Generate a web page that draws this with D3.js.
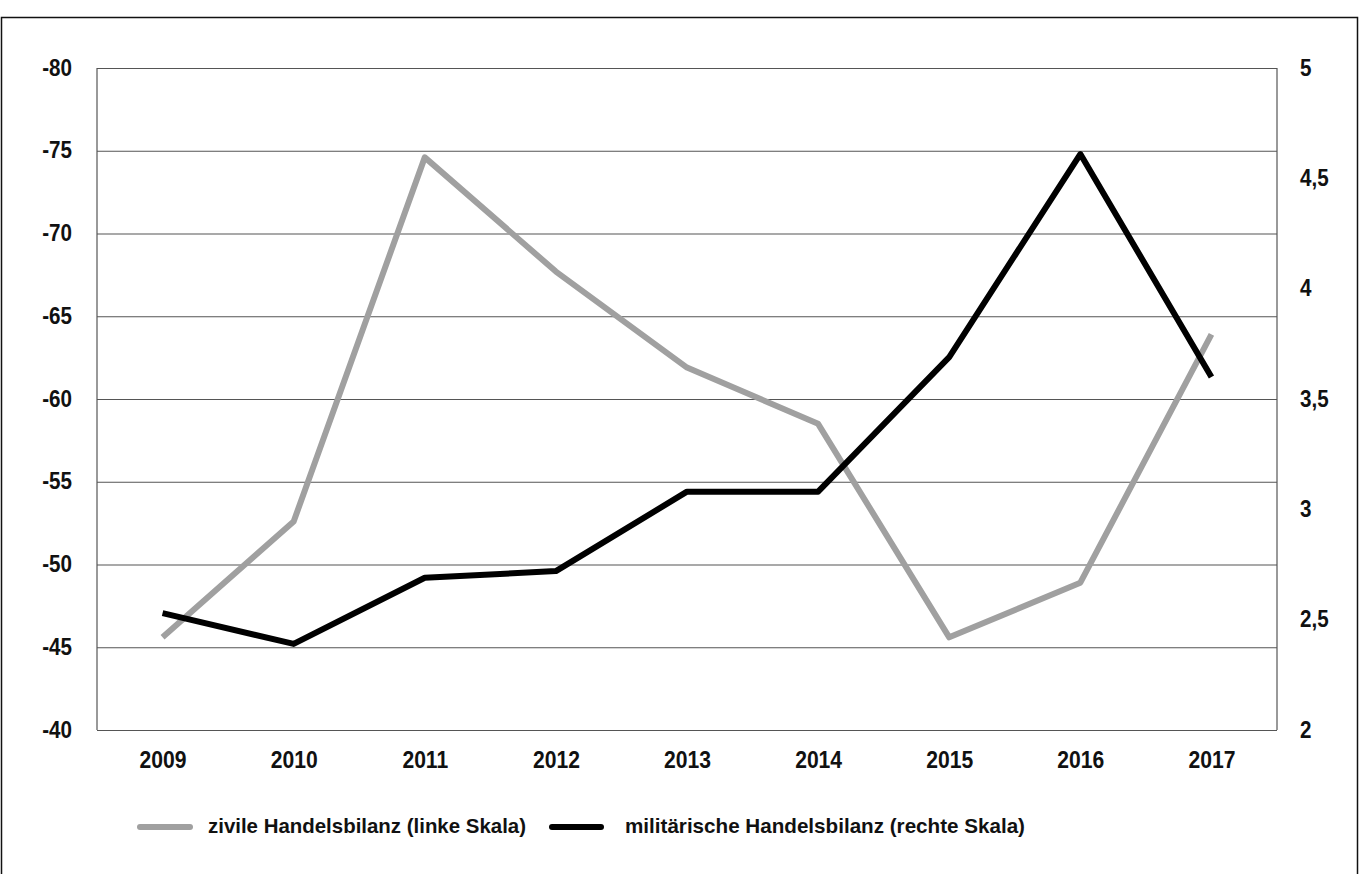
<!DOCTYPE html>
<html lang="de">
  <head>
    <meta charset="utf-8" />
    <title>Zivile und militärische Handelsbilanz 2009–2017</title>
    <script src="https://d3js.org/d3.v7.min.js"></script>
    <style>
      body {
        margin: 0;
        background: #fff;
        font-family: "Liberation Sans", Arial, sans-serif;
        font-weight: bold;
      }
      .tick text {
        font-size: 24px;
        fill: #111;
      }
      .grid line {
        stroke: #555;
        stroke-width: 1.2px;
      }
      .legend text {
        font-size: 21px;
        fill: #111;
      }
    </style>
  </head>
  <body>
    <svg id="chart" width="1361" height="874"></svg>
    <script>
      // Jahre und Werte
      const years = ["2009", "2010", "2011", "2012", "2013", "2014", "2015", "2016", "2017"];
      const zivil = [-45.6, -52.6, -74.6, -67.7, -61.9, -58.5, -45.6, -48.9, -63.9];
      const militaer = [2.53, 2.39, 2.69, 2.72, 3.08, 3.08, 3.69, 4.61, 3.6];
      const leftTicks = [-80, -75, -70, -65, -60, -55, -50, -45, -40];
      const rightTicks = [2, 2.5, 3, 3.5, 4, 4.5, 5];
      const legendLabels = ["zivile Handelsbilanz (linke Skala)", "militärische Handelsbilanz (rechte Skala)"];

      const svg = d3.select("#chart");
      const m = { left: 97, right: 1277, top: 68, bottom: 730 };

      // schmale Schrift nachbilden: Text horizontal stauchen
      function squeeze(sel, s) {
        sel.each(function () {
          const t = d3.select(this);
          const x0 = +t.attr("x") || 0;
          t.attr("transform", `translate(${x0},0) scale(${s},1) translate(${-x0},0)`);
        });
      }

      // äußerer Rahmen
      svg.append("rect")
        .attr("x", 1.5).attr("y", 17.5)
        .attr("width", 1356).attr("height", 900)
        .attr("fill", "none").attr("stroke", "#111").attr("stroke-width", 1.5);

      const x = d3.scalePoint().domain(years).range([m.left, m.right]).padding(0.5);
      const yL = d3.scaleLinear().domain([-40, -80]).range([m.bottom, m.top]);
      const yR = d3.scaleLinear().domain([2, 5]).range([m.bottom, m.top]);

      // Gitterlinien + linke Achse
      const gl = svg.append("g")
        .attr("class", "grid")
        .attr("transform", `translate(${m.left},0)`)
        .call(d3.axisLeft(yL).tickValues(leftTicks).tickSize(-(m.right - m.left)).tickPadding(25)
          .tickFormat(d => String(d)));
      gl.select(".domain").remove();
      gl.selectAll(".tick text").attr("dy", "0.3em").call(squeeze, 0.86);

      // Seitenränder der Zeichenfläche
      svg.append("g").selectAll("line")
        .data([m.left, m.right])
        .join("line")
        .attr("x1", d => d).attr("x2", d => d)
        .attr("y1", m.top).attr("y2", m.bottom)
        .attr("stroke", "#555").attr("stroke-width", 1.2);

      // rechte Achse
      const gr = svg.append("g")
        .attr("transform", `translate(${m.right},0)`)
        .call(d3.axisRight(yR).tickValues(rightTicks).tickSize(0).tickPadding(23)
          .tickFormat(d => String(d).replace(".", ",")));
      gr.select(".domain").remove();
      gr.selectAll(".tick text").attr("dy", "0.3em").call(squeeze, 0.86);

      // x-Achse
      const gx = svg.append("g")
        .attr("transform", `translate(0,${m.bottom})`)
        .call(d3.axisBottom(x).tickSize(0).tickPadding(21));
      gx.select(".domain").remove();
      gx.selectAll(".tick text").call(squeeze, 0.88);

      // Linien
      const lineL = d3.line().x((d, i) => x(years[i])).y(d => yL(d));
      const lineR = d3.line().x((d, i) => x(years[i])).y(d => yR(d));

      svg.append("path")
        .datum(zivil)
        .attr("d", lineL)
        .attr("fill", "none").attr("stroke", "#a0a0a0").attr("stroke-width", 6)
        .attr("stroke-linejoin", "round");

      svg.append("path")
        .datum(militaer)
        .attr("d", lineR)
        .attr("fill", "none").attr("stroke", "#000").attr("stroke-width", 6)
        .attr("stroke-linejoin", "round");

      // Legende
      const legend = svg.append("g").attr("class", "legend");
      const items = [
        { label: legendLabels[0], color: "#a0a0a0", x0: 140, x1: 190, tx: 208, w: 318 },
        { label: legendLabels[1], color: "#000", x0: 552, x1: 601, tx: 625, w: 400 },
      ];
      items.forEach(it => {
        legend.append("line")
          .attr("x1", it.x0).attr("x2", it.x1)
          .attr("y1", 827).attr("y2", 827)
          .attr("stroke", it.color).attr("stroke-width", 6).attr("stroke-linecap", "round");
        legend.append("text")
          .attr("x", it.tx).attr("y", 826).attr("dy", "0.35em")
          .attr("textLength", it.w).attr("lengthAdjust", "spacingAndGlyphs")
          .text(it.label);
      });
    </script>
  </body>
</html>
